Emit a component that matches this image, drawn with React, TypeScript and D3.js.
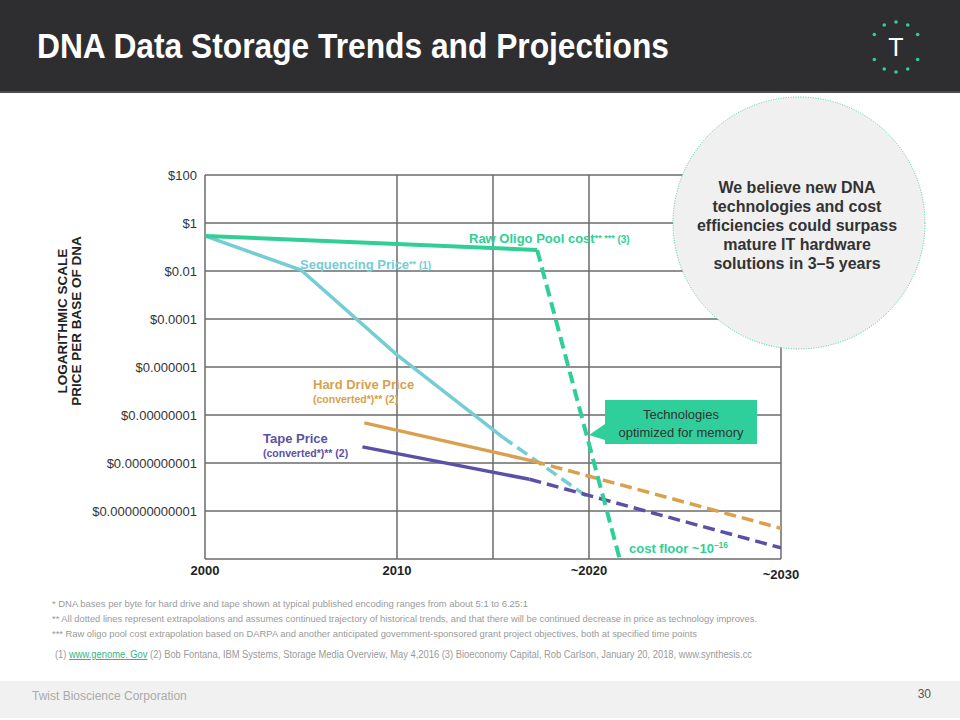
import React from 'react'
import * as d3 from 'd3'

// price per base (USD), [year, price]
const oligoSolid: [number, number][] = [[2000, 0.29], [2017.3, 0.075]]
const oligoProjected: [number, number][] = [[2017.3, 0.075], [2021.6, 1e-14]]
const seqSolid: [number, number][] = [[2000, 0.29], [2005, 0.011], [2010, 3.2e-6], [2015.5, 1.2e-9]]
const seqProjected: [number, number][] = [[2015.5, 1.2e-9], [2020, 3.5e-12]]
const hddSolid: [number, number][] = [[2008.3, 4.7e-9], [2017.1, 1.2e-10]]
const hddProjected: [number, number][] = [[2017.1, 1.2e-10], [2030, 1.9e-13]]
const tapeSolid: [number, number][] = [[2008.2, 4.7e-10], [2016.9, 2.1e-11]]
const tapeProjected: [number, number][] = [[2016.9, 2.1e-11], [2030, 2.9e-14]]

const priceTicks = [1e2, 1, 1e-2, 1e-4, 1e-6, 1e-8, 1e-10, 1e-12, 1e-14]
const priceLabels = ['$100', '$1', '$0.01', '$0.0001', '$0.000001', '$0.00000001', '$0.0000000001', '$0.000000000001', '']
const yearGrid = [2000, 2010, 2015, 2020, 2030]
const yearTicks = [2000, 2010, 2020, 2030]
const yearLabels = ['2000', '2010', '~2020', '~2030']

const circleText = ['We believe new DNA', 'technologies and cost', 'efficiencies could surpass', 'mature IT hardware', 'solutions in 3\u20135 years']
const notes = [
  '* DNA bases per byte for hard drive and tape shown at typical published encoding ranges from about 5:1 to 6.25:1',
  '** All dotted lines represent extrapolations and assumes continued trajectory of historical trends, and that there will be continued decrease in price as technology improves.',
  '*** Raw oligo pool cost extrapolation based on DARPA and another anticipated government-sponsored grant project objectives, both at specified time points',
]
const noteWidths = [476, 705, 645]

const GREEN = '#2fcf96'
const TEAL = '#74cdd4'
const ORANGE = '#d9a04e'
const PURPLE = '#5a51a6'
const FONT = '"Liberation Sans", Arial, Helvetica, sans-serif'

export default function App() {
  const x = d3.scaleLinear().domain([2000, 2030]).range([205, 781])
  const y = d3.scaleLog().domain([1e-14, 1e2]).range([559, 175])
  const line = d3.line<[number, number]>().x(d => x(d[0])).y(d => y(d[1]))

  const series = [
    { solid: seqSolid, dash: seqProjected, color: TEAL, w: 3.5 },
    { solid: hddSolid, dash: hddProjected, color: ORANGE, w: 3.5 },
    { solid: tapeSolid, dash: tapeProjected, color: PURPLE, w: 3.5 },
    { solid: oligoSolid, dash: oligoProjected, color: GREEN, w: 4 },
  ]

  return (
    <svg width={960} height={720} style={{ position: 'absolute', left: 0, top: 0, fontFamily: FONT }}>
      <rect x={0} y={0} width={960} height={720} fill='#fff' />
      {/* header */}
      <rect x={0} y={0} width={960} height={92} fill='#2e2e30' />
      <rect x={0} y={91} width={960} height={2} fill='#4c4c4e' />
      <text x={37} y={58} fill='#fff' fontSize={35} fontWeight='bold' textLength={632} lengthAdjust='spacingAndGlyphs'>
        DNA Data Storage Trends and Projections
      </text>
      <g transform='translate(896,47)'>
        {[-150, -118, -90, -62, -30, 30, 62, 90, 118, 150].map((a, i) => (
          <circle key={i} cx={25 * Math.cos(a * Math.PI / 180)} cy={25 * Math.sin(a * Math.PI / 180)} r={1.8} fill='#2fcf96' />
        ))}
        <text x={0} y={9} textAnchor='middle' fill='#fff' fontSize={25}>T</text>
      </g>

      {/* grid */}
      <g stroke='#6b6b6b' strokeWidth={1.5}>
        {priceTicks.map((p, i) => (
          <line key={'h' + i} x1={x(2000)} x2={x(2030)} y1={y(p)} y2={y(p)} />
        ))}
        {yearGrid.map((yr, i) => (
          <line key={'v' + i} x1={x(yr)} x2={x(yr)} y1={y(1e2)} y2={y(1e-14)} />
        ))}
      </g>
      {priceTicks.map((p, i) => (
        <text key={'yl' + i} x={197} y={y(p) + 5} textAnchor='end' fontSize={13} fill='#333'>{priceLabels[i]}</text>
      ))}
      {yearTicks.map((yr, i) => (
        <text key={'xl' + i} x={x(yr)} y={yr === 2030 ? 579 : 575} textAnchor='middle' fontSize={13} fontWeight='bold' fill='#222'>{yearLabels[i]}</text>
      ))}
      <g transform='translate(0,321) rotate(-90)' fontSize={13.5} fontWeight='bold' fill='#222' textAnchor='middle'>
        <text x={0} y={67}>LOGARITHMIC SCALE</text>
        <text x={0} y={81}>PRICE PER BASE OF DNA</text>
      </g>

      {/* callout circle */}
      <circle cx={799} cy={223} r={126} fill='#f0f0f0' stroke='#3fcf9f' strokeWidth={1} strokeDasharray='1,1.5' />
      {circleText.map((t, i) => (
        <text key={'c' + i} x={797} y={193 + i * 19} textAnchor='middle' fontSize={16} fontWeight='bold' fill='#333'>{t}</text>
      ))}

      {/* series */}
      <defs>
        <clipPath id='plot'>
          <rect x={205} y={175} width={576} height={384} />
        </clipPath>
      </defs>
      <g clipPath='url(#plot)' fill='none'>
        {series.map((s, i) => (
          <g key={'s' + i}>
            <path d={line(s.solid) || ''} stroke={s.color} strokeWidth={s.w} />
            <path d={line(s.dash) || ''} stroke={s.color} strokeWidth={s.w} strokeDasharray='12,6' />
          </g>
        ))}
      </g>

      {/* series labels */}
      <text x={469} y={243} fill={GREEN} fontWeight='bold' fontSize={13}>
        Raw Oligo Pool cost<tspan fontSize={9} dy={-2}>** ***</tspan><tspan fontSize={10} dy={2}> (3)</tspan>
      </text>
      <text x={300} y={269} fill={TEAL} fontWeight='bold' fontSize={13}>
        Sequencing Price<tspan fontSize={9} dy={-2}>**</tspan><tspan fontSize={10} dy={2}> (1)</tspan>
      </text>
      <text x={313} y={389} fill={ORANGE} fontWeight='bold' fontSize={13}>Hard Drive Price</text>
      <text x={313} y={403} fill={ORANGE} fontWeight='bold' fontSize={10.5}>(converted*)** (2)</text>
      <text x={263} y={443} fill={PURPLE} fontWeight='bold' fontSize={13}>Tape Price</text>
      <text x={263} y={457} fill={PURPLE} fontWeight='bold' fontSize={10.5}>(converted*)** (2)</text>
      <text x={629} y={553} fill={GREEN} fontWeight='bold' fontSize={13}>
        cost floor ~10<tspan fontSize={8.5} dy={-5}>{'\u201316'}</tspan>
      </text>

      {/* memory callout */}
      <path d='M605,400 H757 V444 H605 V440 L589,435 L605,424 Z' fill='#2ecf9a' />
      <text x={681} y={419} textAnchor='middle' fontSize={13} fill='#333'>Technologies</text>
      <text x={681} y={437} textAnchor='middle' fontSize={13} fill='#333'>optimized for memory</text>

      {/* notes */}
      {notes.map((n, i) => (
        <text key={'n' + i} x={52} y={607 + i * 15} fontSize={9.5} fill='#9a9a9a' textLength={noteWidths[i]} lengthAdjust='spacingAndGlyphs'>{n}</text>
      ))}
      <text x={55} y={658} fontSize={10} fill='#9a9a9a' textLength={697} lengthAdjust='spacingAndGlyphs'>
        (1) <tspan fill='#2fb884' textDecoration='underline'>www.genome. Gov</tspan> (2) Bob Fontana, IBM Systems, Storage Media Overview,  May 4,2016 (3) Bioeconomy Capital, Rob Carlson, January 20, 2018, www.synthesis.cc
      </text>

      {/* footer */}
      <rect x={0} y={681} width={960} height={37} fill='#f1f1f1' />
      <text x={32} y={700} fontSize={12} fill='#aaa'>Twist Bioscience Corporation</text>
      <text x={931} y={698} textAnchor='end' fontSize={12} fill='#555'>30</text>
    </svg>
  )
}
